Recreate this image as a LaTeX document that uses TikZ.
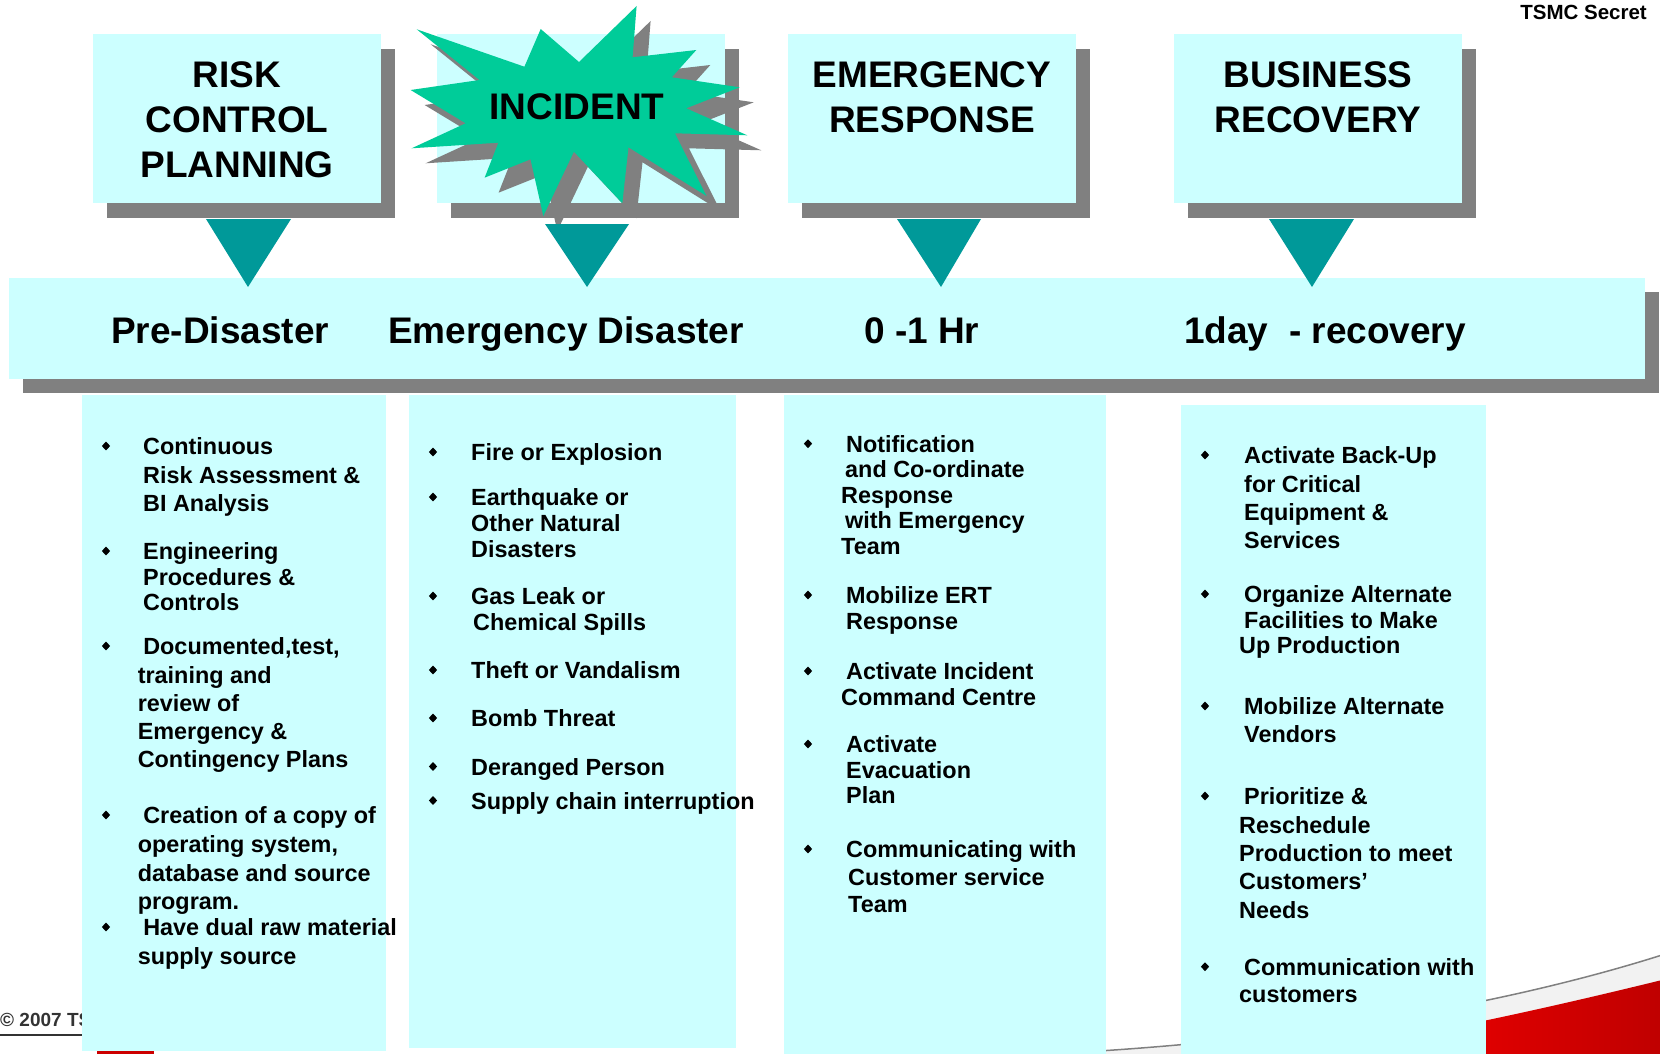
\documentclass[tikz,border=0pt]{standalone}
\usepackage{fontspec}
\setmainfont{Liberation Sans}
\usepackage{xcolor}
\usepackage{tikz}
\usetikzlibrary{positioning, shapes.geometric, shadows}
\definecolor{paleaqua}{RGB}{204, 255, 255}
\definecolor{shadowgray}{RGB}{128, 128, 128}
\definecolor{tealmark}{RGB}{0, 153, 153}
\definecolor{burstgreen}{RGB}{0, 204, 153}
\newcommand{\tallstrut}{\rule{0pt}{17.5pt}}

\begin{document}
\begin{tikzpicture}[
        x=1pt, y=-1pt,
        headbox/.style={rectangle, fill=paleaqua, minimum width=288pt, minimum height=169pt, inner sep=0pt, outer sep=0pt, drop shadow={shadow xshift=14pt, shadow yshift=-15pt, fill=shadowgray, opacity=1}},
        headtext/.style={font=\fontsize{37}{45}\selectfont\bfseries, align=center, inner sep=0pt},
        band/.style={rectangle, fill=paleaqua, minimum width=1636pt, minimum height=101pt, inner sep=0pt, outer sep=0pt, drop shadow={shadow xshift=14pt, shadow yshift=-14pt, fill=shadowgray, opacity=1}},
        phase/.style={font=\fontsize{37}{45}\selectfont\bfseries, anchor=base west, inner sep=0pt},
        lane/.style={rectangle, fill=paleaqua, inner sep=0pt, outer sep=0pt},
        entry/.style={font=\fontsize{23.4}{#1}\selectfont\bfseries, align=left, anchor=north west, inner sep=0pt, yshift=1.5pt},
        bulletmark/.style={diamond, fill=black, inner sep=0pt, minimum width=8.5pt, minimum height=9pt},
        pointer/.style={fill=tealmark}
    ]
        \useasboundingbox (0,0) rectangle (1660,1054);

        % Slide background bits
        \fill[gray!10] (1000,1056) .. controls (1300,1045) and (1520,1000) .. (1662,955) -- (1662,980) .. controls (1560,1005) and (1450,1030) .. (1300,1056) -- cycle;
        \shade[left color=red, right color=red!75!black] (1300,1056) .. controls (1450,1030) and (1560,1005) .. (1662,980) -- (1662,1056) -- cycle;
        \draw[shadowgray, line width=1.5pt] (1000,1056) .. controls (1300,1045) and (1520,1000) .. (1662,955);
        \node[font=\fontsize{19}{23}\selectfont\bfseries, text=black!80, anchor=base west, inner sep=0pt] (copy) at (0,1026) {© 2007 TS};
        \draw[black!80, line width=1.2pt] (0,1035) -- (82,1035);
        \fill[red!80!black] (97,1050) rectangle (154,1054);
        \node[font=\fontsize{20.5}{24}\selectfont\bfseries, anchor=base east, inner sep=0pt] (secret) at (1647,20) {TSMC Secret};

        % Stages
        \node[headbox] (riskbox) at (237,118.5) {};
        \node[headbox, right=56pt of riskbox] (incbox) {};
        \node[headbox, right=63pt of incbox] (emerbox) {};
        \node[headbox, right=98pt of emerbox] (busbox) {};

        % Incident burst
        \foreach \dx/\dy/\col in {14/15/shadowgray, 0/0/burstgreen}
            \fill[\col, shift={(\dx,\dy)}] (636.6,6) -- (632.6,57.3) -- (696.3,50) -- (671.8,77.3) -- (739.7,87.3) -- (686.1,108.3) -- (747.3,135.3) -- (674.9,133.3) -- (706.5,196) -- (628.5,147.3) -- (622.3,203.3) -- (573.9,151.7) -- (543.3,216) -- (530.5,159.3) -- (484.6,177.7) -- (498.4,142.7) -- (411.6,148.3) -- (465.7,123.3) -- (410.6,90) -- (479.5,80) -- (416.7,29.3) -- (524.4,66.7) -- (540.7,29) -- (579,62) -- cycle;

        % Stage titles
        \node[headtext, below=27.5pt of riskbox.north] (risktext) {RISK\\CONTROL\\PLANNING};
        \node[headtext] (inctext) at (577,106.5) {INCIDENT};
        \node[headtext, below=27.5pt of emerbox.north] (emertext) {EMERGENCY\\RESPONSE};
        \node[headtext, below=27.5pt of busbox.north] (bustext) {BUSINESS\\RECOVERY};

        % Timeline band
        \node[band] (band) at (827,328.5) {};
        \node[phase] (pre) at (111,343) {Pre-Disaster};
        \node[phase] (emg) at (388,343) {Emergency Disaster};
        \node[phase] (hour) at (864,343) {0 -1 Hr};
        \node[phase] (day) at (1184,343) {1day\ \ - recovery};

        % Pointers
        \fill[pointer] (206,219) -- (291,219) -- (248,287) -- cycle;
        \fill[pointer] (545,224) -- (629,224) -- (587,287) -- cycle;
        \fill[pointer] (897,219) -- (981,219) -- (941,287) -- cycle;
        \fill[pointer] (1269,219) -- (1354,219) -- (1312,287) -- cycle;

        % Lanes
        \node[lane, minimum width=304pt, minimum height=656pt] (lane1) at (234,723) {};
        \node[lane, minimum width=327pt, minimum height=653pt] (lane2) at (572.5,721.5) {};
        \node[lane, minimum width=322pt, minimum height=659pt] (lane3) at (945,724.5) {};
        \node[lane, minimum width=305pt, minimum height=649pt] (lane4) at (1333.5,729.5) {};

        % Pre-disaster items
        \node[bulletmark] (b11) at (106,446) {};
        \node[entry=28.5] (i11) at (143,438.5) {\tallstrut Continuous\\Risk Assessment \&\\BI Analysis};
        \node[bulletmark] (b12) at (106,551) {};
        \node[entry=25.5] (i12) at (143,543.5) {\tallstrut Engineering\\Procedures \&\\Controls};
        \node[bulletmark] (b13) at (106,646) {};
        \node[entry=28.3] (i13) at (137.6,638.5) {\tallstrut\hspace*{5.5pt}Documented,test,\\training and\\review of\\Emergency \&\\Contingency Plans};
        \node[bulletmark] (b14) at (106,815) {};
        \node[entry=28.7] (i14) at (137.6,807.5) {\tallstrut\hspace*{5.5pt}Creation of a copy of\\operating system,\\database and source\\program.};
        \node[bulletmark] (b15) at (106,927) {};
        \node[entry=28.5] (i15) at (137.6,919.5) {\tallstrut\hspace*{5.5pt}Have dual raw material\\supply source};

        % Emergency items
        \node[bulletmark] (b21) at (433,452) {};
        \node[entry=26] (i21) at (471,444.5) {\tallstrut Fire or Explosion};
        \node[bulletmark] (b22) at (433,497) {};
        \node[entry=26] (i22) at (471,489.5) {\tallstrut Earthquake or\\Other Natural\\Disasters};
        \node[bulletmark] (b23) at (433,596) {};
        \node[entry=25.5] (i23) at (471,588.5) {\tallstrut Gas Leak or\\\hspace*{2pt}Chemical Spills};
        \node[bulletmark] (b24) at (433,670) {};
        \node[entry=26] (i24) at (471,662.5) {\tallstrut Theft or Vandalism};
        \node[bulletmark] (b25) at (433,718) {};
        \node[entry=26] (i25) at (471,710.5) {\tallstrut Bomb Threat};
        \node[bulletmark] (b26) at (433,766.5) {};
        \node[entry=26] (i26) at (471,759) {\tallstrut Deranged Person};
        \node[bulletmark] (b27) at (433,800.5) {};
        \node[entry=26] (i27) at (471,793) {\tallstrut Supply chain interruption};

        % First hour items
        \node[bulletmark] (b31) at (808,443.7) {};
        \node[entry=25.4] (i31) at (841,436.2) {\tallstrut\hspace*{5pt}Notification\\\hspace*{4pt}and Co-ordinate\\Response\\\hspace*{4pt}with Emergency\\Team};
        \node[bulletmark] (b32) at (808,595) {};
        \node[entry=26] (i32) at (846,587.5) {\tallstrut Mobilize ERT\\Response};
        \node[bulletmark] (b33) at (808,671) {};
        \node[entry=25.5] (i33) at (841,663.5) {\tallstrut\hspace*{5pt}Activate Incident\\Command Centre};
        \node[bulletmark] (b34) at (808,744) {};
        \node[entry=25.5] (i34) at (846,736.5) {\tallstrut Activate\\Evacuation\\Plan};
        \node[bulletmark] (b35) at (808,849) {};
        \node[entry=27.5] (i35) at (846,841.5) {\tallstrut Communicating with\\\hspace*{2pt}Customer service\\\hspace*{2pt}Team};

        % Recovery items
        \node[bulletmark] (b41) at (1205,455) {};
        \node[entry=28.3] (i41) at (1244,447.5) {\tallstrut Activate Back-Up\\for Critical\\Equipment \&\\Services};
        \node[bulletmark] (b42) at (1205,594) {};
        \node[entry=25.4] (i42) at (1239,586.5) {\tallstrut\hspace*{5pt}Organize Alternate\\\hspace*{5pt}Facilities to Make\\Up Production};
        \node[bulletmark] (b43) at (1205,706) {};
        \node[entry=27.5] (i43) at (1244,698.5) {\tallstrut Mobilize Alternate\\Vendors};
        \node[bulletmark] (b44) at (1205,796) {};
        \node[entry=28.4] (i44) at (1239,788.5) {\tallstrut\hspace*{5pt}Prioritize \&\\Reschedule\\Production to meet\\Customers’\\Needs};
        \node[bulletmark] (b45) at (1205,966.7) {};
        \node[entry=27.5] (i45) at (1239,959.2) {\tallstrut\hspace*{5pt}Communication with\\customers};
    \end{tikzpicture}
\end{document}
